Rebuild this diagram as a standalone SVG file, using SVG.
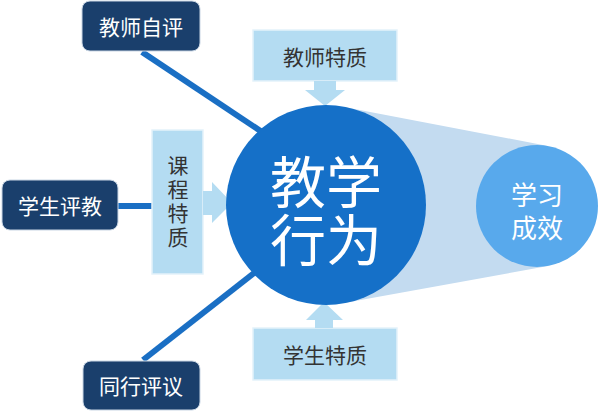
<svg xmlns="http://www.w3.org/2000/svg" width="599" height="412" viewBox="0 0 599 412">
<style>
.dark rect{fill:#1a3f6c;stroke:#c9d6e4;stroke-width:1}
.dark text{fill:#ffffff;font-family:"Noto Sans CJK SC","Noto Sans",sans-serif;font-size:21px;text-anchor:middle;dominant-baseline:central}
.light .box{fill:#b4dcf2;stroke:#e4f2fa;stroke-width:1.5}
.light .arr{fill:#b4dcf2}
.light text{fill:#333333;font-family:"Noto Sans CJK SC","Noto Sans",sans-serif;font-size:21px;text-anchor:middle;dominant-baseline:central}
.conn line{stroke:#1a6fc4;stroke-width:6}
.big{fill:#ffffff;font-family:"Noto Sans CJK SC","Noto Sans",sans-serif;text-anchor:middle;dominant-baseline:central}
</style>
<rect width="599" height="412" fill="#ffffff"/>
<g id="connectors" class="conn">
<line x1="142" y1="52" x2="265" y2="134"/>
<line x1="118" y1="206" x2="153" y2="206"/>
<line x1="143" y1="360" x2="258" y2="270"/>
</g>
<g id="cone">
<polygon points="344,107 548,146 548,266 344,303" fill="#c3dbf0"/>
</g>
<g id="outcome">
<circle cx="537" cy="206" r="61" fill="#58a9ec"/>
<text class="big" font-size="26"><tspan x="537" y="193">学习</tspan><tspan x="537" y="226">成效</tspan></text>
</g>
<g id="teacher-traits" class="light">
<rect class="box" x="253" y="30" width="144" height="51"/>
<polygon class="arr" points="314,81 336,81 336,90 345,90 325,106 305,90 314,90"/>
<text x="325" y="56">教师特质</text>
</g>
<g id="student-traits" class="light">
<rect class="box" x="253" y="328" width="144" height="52"/>
<polygon class="arr" points="315,328 333,328 333,320 343,320 324,302 306,320 315,320"/>
<text x="325" y="354">学生特质</text>
</g>
<g id="course-traits" class="light">
<rect class="box" x="152" y="130" width="51" height="144"/>
<polygon class="arr" points="203,191 212,191 212,182 232,203 212,223 212,215 203,215"/>
<text x="178" y="203" style="writing-mode:vertical-rl" letter-spacing="3">课程特质</text>
</g>
<g id="teaching-behavior">
<circle cx="326" cy="205" r="100" fill="#1570c8"/>
<text class="big" font-size="56"><tspan x="326" y="178">教学</tspan><tspan x="326" y="236">行为</tspan></text>
</g>
<g id="teacher-self" class="dark">
<rect x="82" y="1" width="118" height="50" rx="8"/>
<text x="141" y="26">教师自评</text>
</g>
<g id="student-eval" class="dark">
<rect x="2" y="180" width="116" height="50" rx="8"/>
<text x="60" y="205">学生评教</text>
</g>
<g id="peer-review" class="dark">
<rect x="83" y="361" width="117" height="49" rx="8"/>
<text x="141" y="385">同行评议</text>
</g>
</svg>
